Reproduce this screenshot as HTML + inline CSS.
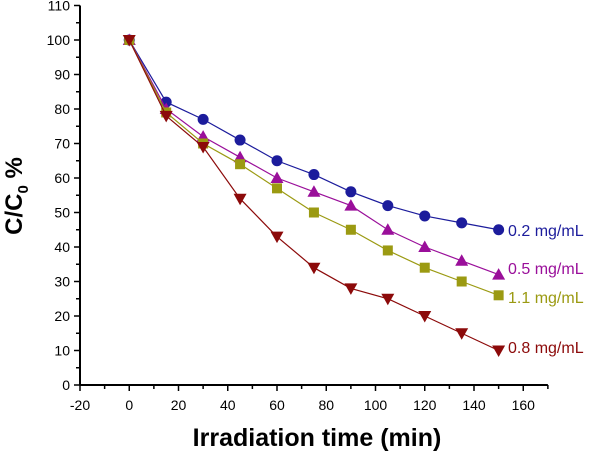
<!DOCTYPE html>
<html><head><meta charset="utf-8"><style>
body{margin:0;background:#fff;}
svg{display:block;font-family:"Liberation Sans",Arial,sans-serif;}
</style></head><body>
<svg id="chart" width="611" height="455"></svg>
<script>
const times = [0,15,30,45,60,75,90,105,120,135,150];
const s02 = [100,82,77,71,65,61,56,52,49,47,45];
const s05 = [100,80,72,66,60,56,52,45,40,36,32];
const s11 = [100,79,70,64,57,50,45,39,34,30,26];
const s08 = [100,78,69,54,43,34,28,25,20,15,10];
const xTicks = [-20,0,20,40,60,80,100,120,140,160];
const yTicks = [0,10,20,30,40,50,60,70,80,90,100,110];
const names = ["0.2 mg/mL","0.5 mg/mL","1.1 mg/mL","0.8 mg/mL"];

const NS="http://www.w3.org/2000/svg";
const svg=document.getElementById('chart');
const X=v=>80+(v+20)*(394/160);
const Y=v=>385-v*(345/100);
function el(t,a,p){const e=document.createElementNS(NS,t);for(const k in a)e.setAttribute(k,a[k]);(p||svg).appendChild(e);return e;}

const ax=el('g',{});


el('line',{x1:X(-20),y1:Y(0),x2:X(170),y2:Y(0),stroke:'#000','stroke-width':2},ax);
el('line',{x1:X(-20),y1:Y(0),x2:X(-20),y2:Y(110),stroke:'#000','stroke-width':2},ax);
for(let v=-20;v<=170;v+=10){const maj=v%20===0;el('line',{x1:X(v),y1:Y(0),x2:X(v),y2:Y(0)+(maj?6:4),stroke:'#000','stroke-width':1.5},ax);}
for(let v=0;v<=110;v+=5){const maj=v%10===0;el('line',{x1:X(-20),y1:Y(v),x2:X(-20)-(maj?6:4),y2:Y(v),stroke:'#000','stroke-width':1.5},ax);}
xTicks.forEach(v=>{const t=el('text',{x:X(v),y:Y(0)+25,'text-anchor':'middle','font-size':14},ax);t.textContent=v;

});
yTicks.forEach(v=>{const t=el('text',{x:X(-20)-10,y:Y(v)+5,'text-anchor':'end','font-size':14},ax);t.textContent=v;

});
const xt=el('text',{x:317,y:446,'text-anchor':'middle','font-size':25,'font-weight':'bold'});
xt.textContent='Irradiation time (min)';


const yt=el('text',{transform:'translate(22,196) rotate(-90)','text-anchor':'middle','font-size':24,'font-weight':'bold'});
yt.innerHTML='C/C<tspan font-size="15" dy="6">0</tspan><tspan dy="-6"> %</tspan>';



const series=[[s02,'#1c1c9c','circle'],[s05,'#9a0f9a','tri'],[s11,'#9b9a12','square'],[s08,'#8c0a0a','down']];
const labelPx=[236,274,303,353];
series.forEach(([d,c,m],i)=>{
  const g=el('g',{});
  
  
  el('polyline',{points:times.map((t,j)=>X(t)+','+Y(d[j])).join(' '),fill:'none',stroke:c,'stroke-width':1.2},g);
  times.forEach((t,j)=>{const x=X(t),y=Y(d[j]);let p;
    if(m==='circle')p=el('circle',{cx:x,cy:y,r:5.5,fill:c},g);
    else if(m==='square')p=el('rect',{x:x-5,y:y-5,width:10,height:10,fill:c},g);
    else if(m==='tri')p=el('polygon',{points:`${x},${y-6.5} ${x-6.5},${y+5} ${x+6.5},${y+5}`,fill:c},g);
    else p=el('polygon',{points:`${x},${y+6.5} ${x-6.5},${y-5} ${x+6.5},${y-5}`,fill:c},g);
    
    
  });
  const lt=el('text',{x:508,y:labelPx[i],'font-size':16,fill:c},g);
  lt.textContent=names[i];
  
  
});
</script>
</body></html>
